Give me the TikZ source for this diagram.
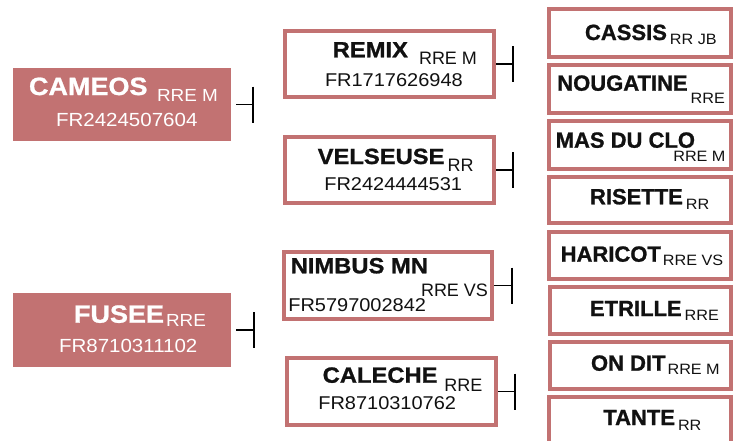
\documentclass[tikz,border=0pt]{standalone}
\usepackage{fontspec}
\setmainfont{Liberation Sans}
\newfontfamily\tfont[FakeStretch=1.08, BoldFeatures={FakeBold=1}]{Liberation Sans}
\newfontfamily\rfont[BoldFeatures={FakeBold=1}]{Liberation Sans}
\definecolor{boxred}{RGB}{194,114,114}
\definecolor{ink}{RGB}{17,17,17}
\tikzset{
  leftbox/.style={fill=boxred, draw=none, inner sep=0pt, outer sep=0pt},
  framebox/.style={draw=boxred, line width=4pt, fill=white, inner sep=0pt},
  conn/.style={draw=black, line width=1.6pt},
  txt/.style={anchor=base west, inner sep=0pt, outer sep=0pt, text=ink},
  bigtitle/.style={txt, text=white, font=\tfont\bfseries\fontsize{25}{25}\selectfont},
  bigsub/.style={txt, text=white, font=\tfont\fontsize{17.5}{17.5}\selectfont},
  bignum/.style={txt, text=white, font=\tfont\fontsize{19}{19}\selectfont},
  title/.style={txt, font=\tfont\bfseries\fontsize{22}{22}\selectfont},
  rtitle/.style={txt, font=\rfont\bfseries\fontsize{22}{22}\selectfont},
  midsub/.style={txt, font=\rfont\fontsize{18}{18}\selectfont},
  num/.style={txt, font=\tfont\fontsize{18.5}{18.5}\selectfont},
  rsub/.style={txt, font=\tfont\fontsize{15}{15}\selectfont},
}
\begin{document}
\begin{tikzpicture}[x=1pt,y=-1pt]
\useasboundingbox (0,0) rectangle (741,440);
% left boxes
\node[leftbox, minimum width=218pt, minimum height=73pt] (cameos) at (122,104.5) {};
\node[leftbox, minimum width=218pt, minimum height=74pt] (fusee) at (122,330) {};
% middle boxes
\node[framebox, minimum width=209pt, minimum height=66pt] (remix) at (389.5,64) {};
\node[framebox, minimum width=209pt, minimum height=66pt] (velseuse) at (389.5,170) {};
\node[framebox, minimum width=208pt, minimum height=67pt] (nimbus) at (388,285.5) {};
\node[framebox, minimum width=209pt, minimum height=67pt] (caleche) at (391.5,391.5) {};
% right boxes
\node[framebox, minimum width=182pt, minimum height=48pt] (cassis) at (640,33) {};
\node[framebox, minimum width=182pt, minimum height=48pt] (nougatine) at (640,89) {};
\node[framebox, minimum width=182pt, minimum height=48pt] (masduclo) at (640,145) {};
\node[framebox, minimum width=182pt, minimum height=46pt] (risette) at (640,200) {};
\node[framebox, minimum width=182pt, minimum height=47pt] (haricot) at (640,255.5) {};
\node[framebox, minimum width=181pt, minimum height=47pt] (etrille) at (640.5,310.5) {};
\node[framebox, minimum width=181pt, minimum height=47pt] (ondit) at (640.5,365.5) {};
\node[framebox, minimum width=182pt, minimum height=48pt] (tante) at (640,421) {};
% connectors
\draw[conn] ([xshift=5pt]cameos.east) -- ++(17,0) coordinate (cameosbar);
\draw[conn] ([yshift=18pt]cameosbar) -- ([yshift=-18pt]cameosbar);
\draw[conn] ([xshift=5pt]fusee.east) -- ++(18,0) coordinate (fuseebar);
\draw[conn] ([yshift=18pt]fuseebar) -- ([yshift=-18pt]fuseebar);
\draw[conn] (remix.east) -- ++(17,0) coordinate (remixbar);
\draw[conn] ([yshift=18pt]remixbar) -- ([yshift=-18pt]remixbar);
\draw[conn] (velseuse.east) -- ++(17,0) coordinate (velseusebar);
\draw[conn] ([yshift=18pt]velseusebar) -- ([yshift=-18pt]velseusebar);
\draw[conn] (nimbus.east) -- ++(18,0) coordinate (nimbusbar);
\draw[conn] ([yshift=18pt]nimbusbar) -- ([yshift=-18pt]nimbusbar);
\draw[conn] (caleche.east) -- ++(17,0) coordinate (calechebar);
\draw[conn] ([yshift=18pt]calechebar) -- ([yshift=-18pt]calechebar);
% left texts
\node[bigtitle] (cameosT) at (29,95) {CAMEOS};
\node[bigsub] (cameosS) at (157,101.7) {RRE M};
\node[bignum] (cameosN) at (56,126.7) {FR2424507604};
\node[bigtitle] (fuseeT) at (74,322.7) {FUSEE};
\node[bigsub] (fuseeS) at (166,326.7) {RRE};
\node[bignum] (fuseeN) at (59,352.7) {FR8710311102};
% middle texts
\node[title] (remixT) at (332.7,57.3) {REMIX};
\node[midsub] (remixS) at (419,64.3) {RRE M};
\node[num] (remixN) at (325,86.7) {FR1717626948};
\node[title] (velseuseT) at (317.7,164) {VELSEUSE};
\node[midsub] (velseuseS) at (447.7,171.7) {RR};
\node[num] (velseuseN) at (324.3,190.7) {FR2424444531};
\node[title] (nimbusT) at (290.7,273.3) {NIMBUS MN};
\node[midsub] (nimbusS) at (421,296) {RRE VS};
\node[num] (nimbusN) at (288.3,311.7) {FR5797002842};
\node[title] (calecheT) at (322.7,382.7) {CALECHE};
\node[midsub] (calecheS) at (444.3,391.7) {RRE};
\node[num] (calecheN) at (318.3,409) {FR8710310762};
% right texts
\node[rtitle] (cassisT) at (585,40) {CASSIS};
\node[rsub] (cassisS) at ([xshift=3pt,yshift=-4.3pt]cassisT.base east) {RR JB};
\node[rtitle] (nougatineT) at (557.3,90.7) {NOUGATINE};
\node[rsub] (nougatineS) at (690.7,103.3) {RRE};
\node[rtitle] (masducloT) at (555.7,147.7) {MAS DU CLO};
\node[rsub] (masducloS) at (673.3,161.7) {RRE M};
\node[rtitle] (risetteT) at (590,204.3) {RISETTE};
\node[rsub] (risetteS) at ([xshift=3pt,yshift=-4.7pt]risetteT.base east) {RR};
\node[rtitle] (haricotT) at (560.7,261.7) {HARICOT};
\node[rsub] (haricotS) at ([xshift=2pt,yshift=-3.3pt]haricotT.base east) {RRE VS};
\node[rtitle] (etrilleT) at (590,316) {ETRILLE};
\node[rsub] (etrilleS) at ([xshift=3pt,yshift=-4pt]etrilleT.base east) {RRE};
\node[rtitle] (onditT) at (591,370.7) {ON DIT};
\node[rsub] (onditS) at ([xshift=2pt,yshift=-3.6pt]onditT.base east) {RRE M};
\node[rtitle] (tanteT) at (603.3,425) {TANTE};
\node[rsub] (tanteS) at ([xshift=3pt,yshift=-5.7pt]tanteT.base east) {RR};
\end{tikzpicture}
\end{document}
